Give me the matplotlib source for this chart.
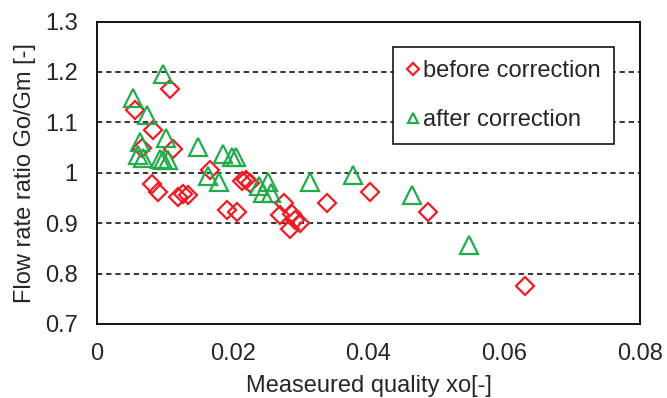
import numpy as np
import matplotlib
matplotlib.use('Agg')
import matplotlib.pyplot as plt

plt.rcParams['font.family'] = ['Liberation Sans', 'DejaVu Sans']

# before correction (red diamonds)
x_before = [0.0056, 0.0108, 0.0083, 0.0066, 0.0112, 0.0081, 0.0090, 0.0119, 0.0127,
            0.0134, 0.0166, 0.0213, 0.0220, 0.0226, 0.0192, 0.0206, 0.0275, 0.0270,
            0.0287, 0.0292, 0.0284, 0.0299, 0.0339, 0.0402, 0.0488, 0.0631]
y_before = [1.124, 1.166, 1.085, 1.049, 1.047, 0.978, 0.962, 0.952, 0.958,
            0.956, 1.005, 0.983, 0.986, 0.979, 0.927, 0.922, 0.940, 0.916,
            0.919, 0.907, 0.888, 0.900, 0.940, 0.961, 0.922, 0.775]

# after correction (green triangles)
x_after = [0.0097, 0.0053, 0.0074, 0.0102, 0.0063, 0.0060, 0.0068, 0.0093, 0.0097,
           0.0104, 0.0149, 0.0163, 0.0180, 0.0186, 0.0199, 0.0205, 0.0239, 0.0252,
           0.0244, 0.0257, 0.0314, 0.0377, 0.0464, 0.0548]
y_after = [1.196, 1.148, 1.114, 1.069, 1.061, 1.035, 1.030, 1.028, 1.026,
           1.025, 1.051, 0.993, 0.982, 1.038, 1.031, 1.032, 0.973, 0.981,
           0.960, 0.960, 0.982, 0.996, 0.956, 0.857]

xticks = [0, 0.02, 0.04, 0.06, 0.08]
xticklabels = ['0', '0.02', '0.04', '0.06', '0.08']
yticks = [0.7, 0.8, 0.9, 1.0, 1.1, 1.2, 1.3]
yticklabels = ['0.7', '0.8', '0.9', '1', '1.1', '1.2', '1.3']

red = '#F01C24'
green = '#22AC4C'
txt = '#262626'
fs = 17

fig = plt.figure(figsize=(6.67, 3.98), dpi=100)
ax = fig.add_axes([97/667, 1-324/398, 543/667, 302.5/398])

for yg in [0.8, 0.9, 1.0, 1.1, 1.2]:
    ax.axhline(yg, color='black', lw=1.1, ls=(0, (3.5, 2.5)), zorder=1)

ax.plot(x_before, y_before, ls='none', marker='D', ms=9.5, mfc='none', mec=red,
        mew=1.6, label='before correction', zorder=3)
ax.plot(x_after, y_after, ls='none', marker='^', ms=12.5, mfc='none', mec=green,
        mew=1.6, label='after correction', zorder=3)

ax.set_xlim(0, 0.08)
ax.set_ylim(0.7, 1.3)
ax.set_xticks(xticks)
ax.set_xticklabels(xticklabels)
ax.set_yticks(yticks)
ax.set_yticklabels(yticklabels)
ax.tick_params(axis='both', length=0, labelsize=fs, labelcolor=txt)
ax.tick_params(axis='y', pad=14)
ax.tick_params(axis='x', pad=14)
for s in ax.spines.values():
    s.set_linewidth(1.3)
    s.set_color('black')

ax.set_xlabel('Measeured quality xo[-]', fontsize=fs, color=txt, labelpad=7)
ax.set_ylabel('Flow rate ratio Go/Gm [-]', fontsize=fs, color=txt, labelpad=6)

leg = ax.legend(loc='upper left', bbox_to_anchor=(393/667, 1-47/398),
                bbox_transform=fig.transFigure, borderaxespad=0, fontsize=fs,
                markerscale=0.6, handlelength=0.6, handletextpad=0.12,
                borderpad=0.55, labelspacing=1.15, fancybox=False, framealpha=1)
leg.get_frame().set_edgecolor('black')
leg.get_frame().set_linewidth(1.1)
for t in leg.get_texts():
    t.set_color(txt)

fig.savefig('out.png', dpi=100)
